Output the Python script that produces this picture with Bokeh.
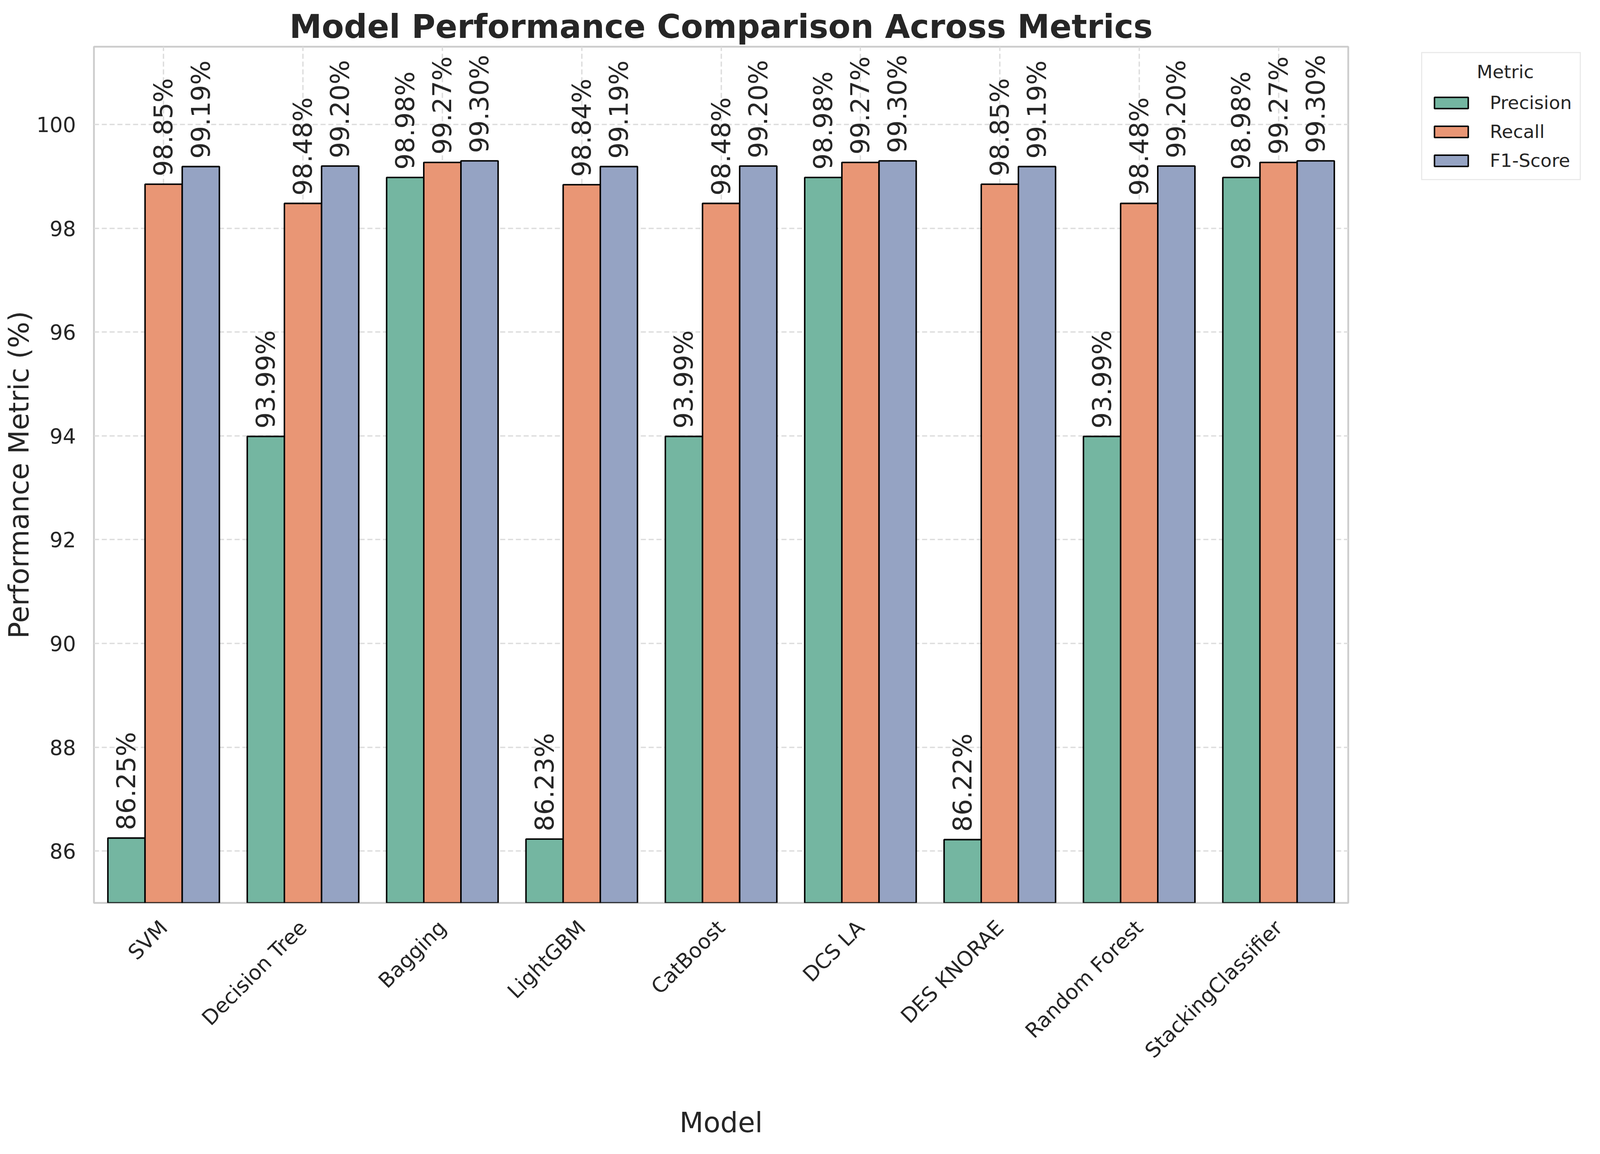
import math
from bokeh.plotting import figure
from bokeh.models import (ColumnDataSource, FactorRange, Range1d, SingleIntervalTicker,
                          Legend, LegendItem)
from bokeh.transform import dodge
from bokeh.core.properties import value
from bokeh.embed import file_html
from bokeh.resources import INLINE

models = ["SVM", "Decision Tree", "Bagging", "LightGBM", "CatBoost",
          "DCS LA", "DES KNORAE", "Random Forest", "StackingClassifier"]
metrics = ["Precision", "Recall", "F1-Score"]
precision = [86.25, 93.99, 98.98, 86.23, 93.99, 98.98, 86.22, 93.99, 98.98]
recall = [98.85, 98.48, 99.27, 98.84, 98.48, 99.27, 98.85, 98.48, 99.27]
f1_score = [99.19, 99.20, 99.30, 99.19, 99.20, 99.30, 99.19, 99.20, 99.30]
colors = ["#74b6a1", "#e99675", "#95a3c3"]

series = [precision, recall, f1_score]
cols = ["Precision", "Recall", "F1"]
data = dict(model=models)
for c, s in zip(cols, series):
    data[c] = s
    data[c + "_lab"] = [f"{v:.2f}%" for v in s]
src = ColumnDataSource(data=data)

FONT = "DejaVu Sans"
TXT = "#262626"

p = figure(x_range=FactorRange(factors=models, range_padding=0),
           y_range=Range1d(85, 101.5),
           width=4260, height=2937, output_backend="svg", toolbar_location=None,
           min_border_left=240, min_border_right=809, min_border_top=119,
           min_border_bottom=627)

bw = 0.8 / 3
offsets = [-bw, 0.0, bw]
renderers = []
for c, off, col in zip(cols, offsets, colors):
    r = p.vbar(x=dodge("model", off, range=p.x_range), top=c, bottom=0, width=bw,
               fill_color=col, line_color="black", line_width=3.8, source=src)
    renderers.append(r)
    p.text(x=dodge("model", off, range=p.x_range), y=c, text=c + "_lab",
           angle=math.pi / 2, text_align="left", text_baseline="middle",
           y_offset=-20, text_font=value(FONT), text_font_size="66px",
           text_color=TXT, source=src)

# title
p.title.text = "Model Performance Comparison Across Metrics"
p.title.align = "center"
p.title.text_font = FONT
p.title.text_font_size = "83px"
p.title.text_font_style = "bold"
p.title.text_color = TXT
p.title.standoff = 6

# frame / background
p.background_fill_color = "white"
p.border_fill_color = "white"
p.outline_line_color = "#cccccc"
p.outline_line_width = 4.5

# grids
for g in (p.xgrid, p.ygrid):
    g.grid_line_color = "#dddddd"
    g.grid_line_width = 3.5
    g.grid_line_dash = "13 7"

# axes
p.yaxis.ticker = SingleIntervalTicker(interval=2)
for ax in (p.xaxis, p.yaxis):
    ax.axis_line_color = None
    ax.major_tick_line_color = None
    ax.minor_tick_line_color = None
    ax.major_label_text_font = FONT
    ax.major_label_text_font_size = "53px"
    ax.major_label_text_color = TXT
    ax.axis_label_text_font = FONT
    ax.axis_label_text_font_size = "71px"
    ax.axis_label_text_font_style = "normal"
    ax.axis_label_text_color = TXT

p.yaxis.axis_label = "Performance Metric (%)"
p.yaxis.major_label_standoff = 40
p.yaxis.axis_label_standoff = 0
p.xaxis.axis_label = "Model"
p.xaxis.major_label_orientation = math.pi / 4
p.xaxis.major_label_standoff = 48
p.xaxis.axis_label_standoff = 88

# legend, in the panel right of the frame (title shifted to sit centred)
items = [LegendItem(label=m, renderers=[r]) for m, r in zip(metrics, renderers)]
legend = Legend(items=items, location=(187, 1849), title="\u00a0" * 8 + "Metric",
                title_text_font=FONT, title_text_font_size="47px",
                title_text_font_style="normal", title_text_color=TXT, title_standoff=24,
                label_text_font=FONT, label_text_font_size="47px", label_text_color=TXT,
                glyph_width=108, glyph_height=36, label_standoff=45,
                padding=20, spacing=19, margin=0,
                border_line_color="#d5d5d5", border_line_width=3.5,
                background_fill_color="white", background_fill_alpha=1.0)
p.add_layout(legend, "right")

open("out.html", "w").write(file_html(p, INLINE))
